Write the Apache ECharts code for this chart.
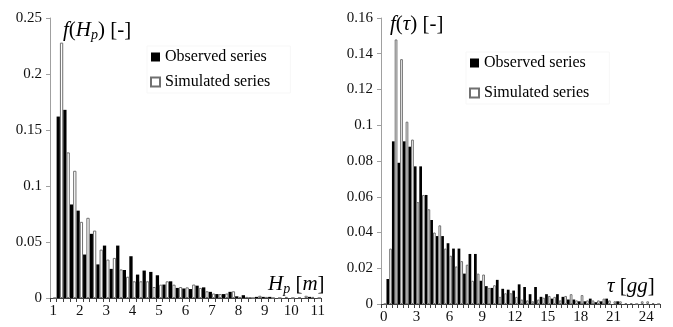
<!DOCTYPE html>
<html>
<head>
<meta charset="utf-8">
<script src="https://cdn.jsdelivr.net/npm/echarts@6/dist/echarts.min.js"></script>
<style>html,body{margin:0;padding:0;background:#fff}#c{width:673px;height:327px}</style>
</head>
<body>
<div id="c"></div>
<script>
// Left chart: significant wave height Hp [m], bins of 0.25 m
const hpCategories = ['1','1.25','1.5','1.75','2','2.25','2.5','2.75','3','3.25','3.5','3.75','4','4.25','4.5','4.75','5','5.25','5.5','5.75','6','6.25','6.5','6.75','7','7.25','7.5','7.75','8','8.25','8.5','8.75','9','9.25','9.5','9.75','10','10.25','10.5','10.75','11'];
const hpObserved = [0,0.162,0.168,0.0835,0.078,0.0388,0.0573,0.030,0.0468,0.026,0.0468,0.025,0.0373,0.0209,0.0245,0.0233,0.0203,0.012,0.0149,0.009,0.0085,0.008,0.011,0.0095,0.0055,0.0035,0.0035,0.0055,0.0015,0.0025,0.0005,0.001,0.001,0.001,0,0,0,0,0,0.001,0];
const hpSimulated = [0,0.228,0.130,0.1136,0.068,0.0716,0.0602,0.0432,0.0343,0.0358,0.0255,0.019,0.0149,0.0149,0.0149,0.0098,0.0119,0.0149,0.0119,0.0098,0.0095,0.012,0.009,0.006,0.004,0.0035,0.004,0.006,0.001,0.001,0,0.002,0.001,0,0,0.001,0,0.0005,0.002,0.001,0];
const hpYTicks = {min: 0, max: 0.25, interval: 0.05};

// Right chart: duration tau [gg], bins of 0.5 days
const tauCategories = ['0','0.5','1','1.5','2','2.5','3','3.5','4','4.5','5','5.5','6','6.5','7','7.5','8','8.5','9','9.5','10','10.5','11','11.5','12','12.5','13','13.5','14','14.5','15','15.5','16','16.5','17','17.5','18','18.5','19','19.5','20','20.5','21','21.5','22','22.5','23','23.5','24','24.5','25'];
const tauObserved = [0,0.014,0.091,0.079,0.091,0.088,0.077,0.077,0.061,0.047,0.038,0.038,0.034,0.031,0.031,0.017,0.028,0.028,0.013,0.010,0.009,0.0135,0.0085,0.008,0.0075,0.011,0.0095,0.0055,0.0095,0.004,0.0055,0.003,0.0055,0.004,0.0025,0.0025,0.0015,0.0015,0.003,0.001,0.0015,0.003,0,0.0015,0,0,0,0,0,0,0];
const tauSimulated = [0,0.031,0.148,0.137,0.102,0.092,0.057,0.061,0.053,0.040,0.044,0.031,0.027,0.021,0.024,0.022,0.013,0.017,0.0165,0.009,0.0105,0.004,0.006,0.006,0.004,0.0025,0.002,0.0015,0.0025,0.0035,0.0045,0.004,0.002,0.0045,0.0055,0.002,0.005,0.002,0.002,0.002,0.003,0.002,0.0015,0.0015,0.0005,0.0005,0,0.0015,0.0015,0.0005,0];
const tauYTicks = {min: 0, max: 0.16, interval: 0.02};

const seriesNames = ['Observed series', 'Simulated series'];

const FONT = 'Liberation Serif';
const chart = echarts.init(document.getElementById('c'), null, {renderer: 'canvas'});

function xAxisFor(cats, labelInterval, gridIndex) {
  return {
    type: 'category', gridIndex: gridIndex, data: cats, boundaryGap: true,
    axisLine: {show: true, lineStyle: {color: '#404040', width: 1}},
    axisTick: {show: true, interval: 0, alignWithLabel: false, length: 4, lineStyle: {color: '#404040'}},
    axisLabel: {interval: labelInterval, color: '#111', fontFamily: FONT, fontSize: 15, margin: 6},
    splitLine: {show: false}
  };
}
function yAxisFor(t, gridIndex) {
  return {
    type: 'value', gridIndex: gridIndex, min: t.min, max: t.max, interval: t.interval,
    axisLine: {show: true, lineStyle: {color: '#a0a0a0', width: 1}},
    axisTick: {show: true, length: 4, lineStyle: {color: '#a0a0a0'}},
    axisLabel: {color: '#111', fontFamily: FONT, fontSize: 15, margin: 8},
    splitLine: {show: false}
  };
}
const obsStyle = {color: '#000000'};
const simStyle = {color: '#ffffff', borderColor: '#707070', borderWidth: 1};

const titleRich = {
  i: {fontFamily: FONT, fontStyle: 'italic', fontWeight: 'normal', fontSize: 21, color: '#000'},
  n: {fontFamily: FONT, fontWeight: 'normal', fontSize: 21, color: '#000'},
  s: {fontFamily: FONT, fontStyle: 'italic', fontWeight: 'normal', fontSize: 14, color: '#000', padding: [10, 0, 0, 0]}
};
const titleTextStyle = {fontWeight: 'normal', fontFamily: FONT, rich: titleRich};

chart.setOption({
  animation: false,
  backgroundColor: '#ffffff',
  grid: [
    {left: 50, top: 18, width: 271, bottom: 29, containLabel: false},
    {left: 381, top: 18, right: 13, bottom: 23, containLabel: false}
  ],
  title: [
    {text: '{i|f}{n|(}{i|H}{s|p}{n|) [-]}', left: 63, top: 18, padding: 0, textStyle: titleTextStyle},
    {text: '{i|H}{s|p}{n| [}{i|m}{n|]}', left: 268, top: 272, padding: 0, textStyle: titleTextStyle},
    {text: '{i|f}{n|(}{i|\u03c4}{n|) [-]}', left: 390, top: 14, padding: 0, textStyle: titleTextStyle},
    {text: '{i|\u03c4}{n| [}{i|gg}{n|]}', left: 607, top: 276, padding: 0, textStyle: titleTextStyle}
  ],
  legend: [
    {data: seriesNames, orient: 'vertical', left: 147, top: 46, itemWidth: 9, itemHeight: 9, itemGap: 9,
     icon: 'rect', textStyle: {fontFamily: FONT, fontSize: 16, color: '#000'}, selectedMode: false,
     borderColor: '#f7f7f7', borderWidth: 1, padding: [3, 20, 3, 3]},
    {data: seriesNames, orient: 'vertical', left: 466, top: 52, itemWidth: 9, itemHeight: 9, itemGap: 14,
     icon: 'rect', textStyle: {fontFamily: FONT, fontSize: 16, color: '#000'}, selectedMode: false,
     borderColor: '#f7f7f7', borderWidth: 1, padding: [3, 20, 3, 3]}
  ],
  xAxis: [xAxisFor(hpCategories, 3, 0), xAxisFor(tauCategories, 5, 1)],
  yAxis: [yAxisFor(hpYTicks, 0), yAxisFor(tauYTicks, 1)],
  series: [
    {name: seriesNames[0], type: 'bar', xAxisIndex: 0, yAxisIndex: 0, data: hpObserved, itemStyle: obsStyle, barGap: '0%', barCategoryGap: '0%'},
    {name: seriesNames[1], type: 'bar', xAxisIndex: 0, yAxisIndex: 0, data: hpSimulated, itemStyle: simStyle, barGap: '0%', barCategoryGap: '0%'},
    {name: seriesNames[0], type: 'bar', xAxisIndex: 1, yAxisIndex: 1, data: tauObserved, itemStyle: obsStyle, barGap: '0%', barCategoryGap: '0%'},
    {name: seriesNames[1], type: 'bar', xAxisIndex: 1, yAxisIndex: 1, data: tauSimulated, itemStyle: simStyle, barGap: '0%', barCategoryGap: '0%'}
  ]
});
</script>
</body>
</html>
